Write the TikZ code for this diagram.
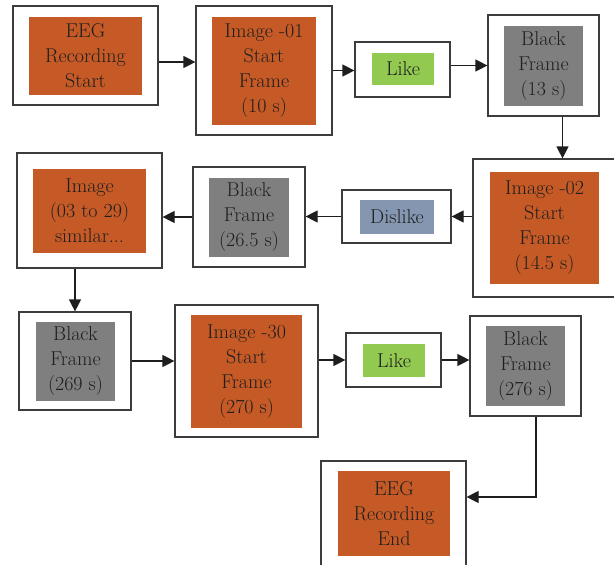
\documentclass[tikz,border=0pt]{standalone}
\usetikzlibrary{arrows.meta}

\definecolor{rust}{RGB}{197,90,38}
\definecolor{frame}{RGB}{127,127,127}
\definecolor{likeg}{RGB}{146,201,80}
\definecolor{dislb}{RGB}{132,150,176}
\definecolor{edge}{RGB}{60,60,60}
\definecolor{ink}{RGB}{30,30,30}

\tikzset{
  outer/.style={draw=edge, line width=1.2pt, fill=white, inner sep=0pt},
  inner/.style={align=center, inner sep=0pt, text=ink,
    font=\fontsize{20}{25}\selectfont},
  flow/.style={-{Triangle[length=12pt,width=12pt]}, line width=1.2pt, draw=ink},
}

\begin{document}
\begin{tikzpicture}[x=1pt,y=-1pt]
    \useasboundingbox (0,0) rectangle (614,565);

    % outer boxes
    \node[outer, minimum width=145pt, minimum height=99pt]  (eegs)  at (85.5,55.5)  {};
    \node[outer, minimum width=136pt, minimum height=129pt] (img1)  at (264,70.5)   {};
    \node[outer, minimum width=95pt,  minimum height=55pt]  (like1) at (402.5,69.5) {};
    \node[outer, minimum width=111pt, minimum height=101pt] (blk1)  at (543.5,65.5) {};
    \node[outer, minimum width=143pt, minimum height=138pt] (img2)  at (544.5,228)  {};
    \node[outer, minimum width=109pt, minimum height=53pt]  (disl)  at (396.5,216.5) {};
    \node[outer, minimum width=112pt, minimum height=100pt] (blk2)  at (249,217)    {};
    \node[outer, minimum width=145pt, minimum height=115pt] (imgs)  at (89.5,210.5) {};
    \node[outer, minimum width=112pt, minimum height=98pt]  (blk3)  at (75,361)     {};
    \node[outer, minimum width=143pt, minimum height=132pt] (img30) at (246.5,371)  {};
    \node[outer, minimum width=95pt,  minimum height=54pt]  (like2) at (393.5,360)  {};
    \node[outer, minimum width=111pt, minimum height=100pt] (blk4)  at (525.5,366)  {};
    \node[outer, minimum width=145pt, minimum height=105pt] (eege)  at (393.5,513.5) {};

    % filled boxes
    \node[inner, fill=rust,  minimum width=113pt, minimum height=78pt]  (eegs-in)  at (85.5,56)   {EEG\\Recording\\Start};
    \node[inner, fill=rust,  minimum width=104pt, minimum height=108pt] (img1-in)  at (264,71)    {Image -01\\Start\\Frame\\(10 s)};
    \node[inner, fill=likeg, minimum width=62pt,  minimum height=32pt]  (like1-in) at (403,69)    {Like};
    \node[inner, fill=frame, minimum width=79pt,  minimum height=80pt]  (blk1-in)  at (543.5,66)  {Black\\Frame\\(13 s)};
    \node[inner, fill=rust,  minimum width=109pt, minimum height=112pt] (img2-in)  at (544.5,228) {Image -02\\Start\\Frame\\(14.5 s)};
    \node[inner, fill=dislb, minimum width=74pt,  minimum height=34pt]  (disl-in)  at (397,217)   {Dislike};
    \node[inner, fill=frame, minimum width=80pt,  minimum height=79pt]  (blk2-in)  at (249,217.5) {Black\\Frame\\(26.5 s)};
    \node[inner, fill=rust,  minimum width=113pt, minimum height=84pt]  (imgs-in)  at (89.5,211)  {Image\\(03 to 29)\\similar...};
    \node[inner, fill=frame, minimum width=79pt,  minimum height=79pt]  (blk3-in)  at (75.5,361.5) {Black\\Frame\\(269 s)};
    \node[inner, fill=rust,  minimum width=111pt, minimum height=113pt] (img30-in) at (246.5,371.5) {Image -30\\Start\\Frame\\(270 s)};
    \node[inner, fill=likeg, minimum width=62pt,  minimum height=33pt]  (like2-in) at (394,360.5)  {Like};
    \node[inner, fill=frame, minimum width=79pt,  minimum height=80pt]  (blk4-in)  at (525.5,366)  {Black\\Frame\\(276 s)};
    \node[inner, fill=rust,  minimum width=112pt, minimum height=85pt]  (eege-in)  at (394,513.5)  {EEG\\Recording\\End};

    % arrows
    \draw[flow] ([yshift=-6.5pt]eegs.east) -- ([yshift=-6.5pt]eegs.east -| img1.west);
    \draw[flow] (img1.east) -- (img1.east -| like1.west);
    \draw[flow] (like1.east |- blk1) -- (blk1.west);
    \draw[flow] ([xshift=19pt]blk1.south) -- ([xshift=19pt]blk1.south |- img2.north);
    \draw[flow] (img2.west |- disl) -- (disl.east);
    \draw[flow] (disl.west) -- (disl.west -| blk2.east);
    \draw[flow] (blk2.west) -- (blk2.west -| imgs.east);
    \draw[flow] (imgs.south -| blk3) -- (blk3.north);
    \draw[flow] (blk3.east) -- (blk3.east -| img30.west);
    \draw[flow] (img30.east |- like2) -- (like2.west);
    \draw[flow] (like2.east) -- (like2.east -| blk4.west);
    \draw[flow] ([xshift=10.5pt]blk4.south) |- ([yshift=16.5pt]eege.east);
\end{tikzpicture}
\end{document}
